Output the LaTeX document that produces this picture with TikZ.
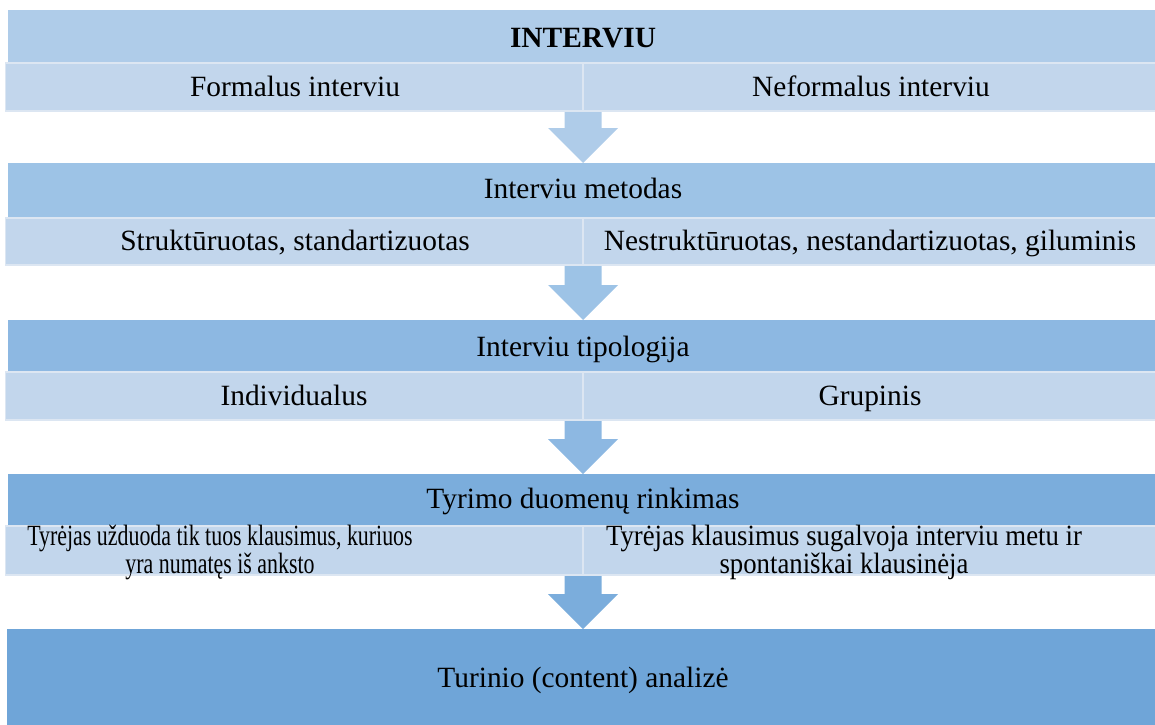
\documentclass[tikz,border=0pt]{standalone}
\usepackage{fontspec}
\setmainfont{Liberation Serif}
\newfontfamily\Dsqueezeleft[FakeStretch=0.745]{Liberation Serif}
\newfontfamily\Dsqueezeright[FakeStretch=0.91]{Liberation Serif}
\usetikzlibrary{calc}
\definecolor{Dblue1}{RGB}{175,204,233}
\definecolor{Dblue2}{RGB}{157,195,230}
\definecolor{Dblue3}{RGB}{141,184,226}
\definecolor{Dblue4}{RGB}{123,173,220}
\definecolor{Dblue5}{RGB}{111,165,216}
\definecolor{Dcellfill}{RGB}{194,214,236}
\definecolor{Dcellline}{RGB}{220,230,242}
\tikzset{%
    Dband/.style={fill=#1}, Dband/.default={Dblue1},
    Dcell/.style={fill=Dcellfill, draw=Dcellline, line width=0.9pt},
    Dlabel/.style={font=\fontsize{14.7}{14}\selectfont, inner sep=0pt, anchor=base},
    Dlabeltwo/.style={font=#1\fontsize{14.7}{14}\selectfont, inner sep=0pt, anchor=center, align=center},
    Darrow/.style={fill=#1}
}

\begin{document}
\begin{tikzpicture}[x=0.5pt,y=-0.5pt]
        \useasboundingbox (0,0) rectangle (1155,724);
        \path
            (583,111) coordinate (Ao1) (583,163) coordinate (Ai1)
            (583,265) coordinate (Ao2) (583,320) coordinate (Ai2)
            (583,420) coordinate (Ao3) (583,474) coordinate (Ai3)
            (583,575) coordinate (Ao4) (583,629) coordinate (Ai4);
        % arrows under the bands
        \foreach \n/\c in {1/Dblue1,2/Dblue2,3/Dblue3,4/Dblue4}
            \fill[Darrow=\c] ($(Ao\n)+(-18.5,-4)$) -- ($(Ao\n)+(18.5,-4)$) -- ($(Ai\n)+(18.5,-35)$)
                -- ($(Ai\n)+(35,-35)$) -- (Ai\n) -- ($(Ai\n)+(-35,-35)$) -- ($(Ai\n)+(-18.5,-35)$) -- cycle;
        % bands: head row and two cells
        \foreach \ya/\yb/\yc/\c in {10/63/111/Dblue1,163/218/265/Dblue2,320/372/420/Dblue3,474/526/575/Dblue4}{
            \fill[Dband=\c] (8,\ya) rectangle (1160,\yb);
            \draw[Dcell] (5.5,\yb) rectangle (583,\yc);
            \draw[Dcell] (583,\yb) rectangle (1160,\yc);
        }
        \fill[Dband=Dblue5] (7,629) rectangle (1160,730);
        % texts
        \node[Dlabel] (tInterviu) at (583,47) {\textbf{INTERVIU}};
        \node[Dlabel] (tFormal) at (295,96) {Formalus interviu};
        \node[Dlabel] (tNeformal) at (871,96) {Neformalus interviu};
        \node[Dlabel] (tMetodas) at (583,198) {Interviu metodas};
        \node[Dlabel] (tStrukt) at (295,250) {Struktūruotas, standartizuotas};
        \node[Dlabel] (tNestrukt) at (870,250) {Nestruktūruotas, nestandartizuotas, giluminis};
        \node[Dlabel] (tTipologija) at (583,356) {Interviu tipologija};
        \node[Dlabel] (tIndiv) at (294,405) {Individualus};
        \node[Dlabel] (tGrup) at (870,405) {Grupinis};
        \node[Dlabel] (tRinkimas) at (583,508) {Tyrimo duomenų rinkimas};
        \node[Dlabeltwo=\Dsqueezeleft] (tUzduoda) at (220,552)
            {Tyrėjas užduoda tik tuos klausimus, kuriuos\\ yra numatęs iš anksto};
        \node[Dlabeltwo=\Dsqueezeright] (tSugalvoja) at (844,552)
            {Tyrėjas klausimus sugalvoja interviu metu ir\\ spontaniškai klausinėja};
        \node[Dlabel] (tAnalize) at (583,687) {Turinio (content) analizė};
\end{tikzpicture}
\end{document}
